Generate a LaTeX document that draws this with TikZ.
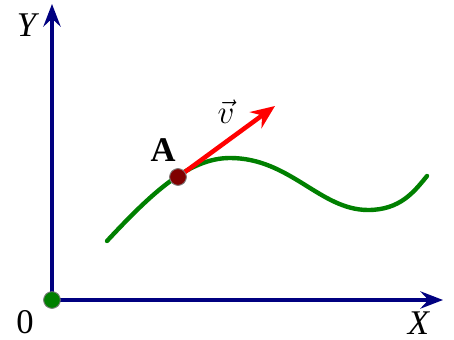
\documentclass[tikz,border=0pt]{standalone}
\usepackage{fontspec}
\setmainfont{Liberation Serif}
\usepackage{tikz}
\usetikzlibrary{arrows.meta, positioning}
\definecolor{axisblue}{HTML}{000080}
\definecolor{curvegreen}{HTML}{008000}
\definecolor{pointred}{HTML}{800000}

\begin{document}
\begin{tikzpicture}[x=0.0264cm, y=-0.0264cm,
  axis/.style={draw=axisblue, line width=2.6pt,
    -{Stealth[length=17pt, width=13pt, inset=6pt]}},
  curve/.style={draw=curvegreen, line width=3.3pt, line cap=round},
  dot/.style={circle, draw=black!50, line width=0.6pt, inner sep=0pt,
    minimum size=12.5pt},
  lbl/.style={font=\fontsize{26}{30}\selectfont, inner sep=0pt},
]
  \useasboundingbox (0,0) rectangle (454,340);

  % Axes
  \node[dot, fill=curvegreen] (origin) at (52,300) {};
  \coordinate (ytip) at (52,4);
  \coordinate (xtip) at (443,300);
  \draw[axis] (origin.center) -- (ytip);
  \draw[axis] (origin.center) -- (xtip);
  \node[dot, fill=curvegreen] at (origin) {};

  % Labels
  \node[lbl] (ylabel) at (28,25) {\textit{Y}};
  \node[lbl] (xlabel) at (419,323) {\textit{X}};
  \node[lbl] (zero) at (25,322) {0};

  % Trajectory
  \draw[curve] (107,241) .. controls (150,195) and (188,158) .. (230,158)
    .. controls (290,158) and (320,210) .. (368,210)
    .. controls (400,210) and (414,192) .. (427,176);

  % Velocity
  \node[dot, fill=pointred] (A) at (178,177) {};
  \coordinate (vtip) at (275,106);
  \draw[draw=red, line width=3.4pt,
    -{Stealth[length=18pt, width=15pt, inset=6pt]}] (A.center) -- (vtip);
  \node[dot, fill=pointred] at (A) {};
  \node[lbl, font=\fontsize{26}{30}\selectfont\bfseries] (alabel) at (163,150) {A};
  \node[lbl, font=\fontsize{24}{28}\selectfont] (vlabel) at (226,112) {$\vec{v}$};
\end{tikzpicture}
\end{document}
